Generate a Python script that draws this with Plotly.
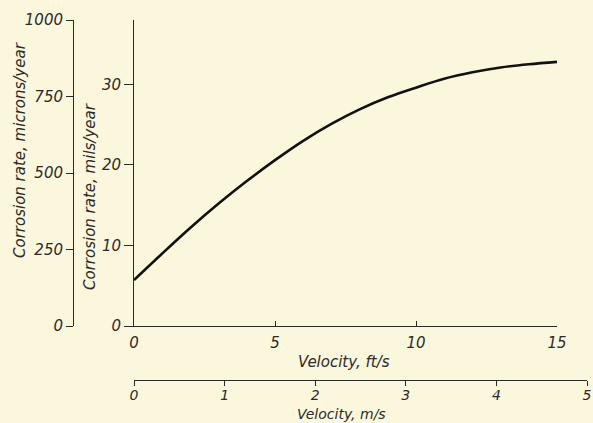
import plotly.graph_objects as go

# Data
velocity_fts = [0, 1, 2, 3, 4, 5, 6, 7, 8, 9, 10, 11, 12, 13, 14, 15]
corrosion_mils = [5.7, 9.0, 12.2, 15.2, 18.0, 20.6, 23.0, 25.1, 26.9, 28.4, 29.6, 30.7, 31.5, 32.1, 32.5, 32.8]

ft_ticks = [0, 5, 10, 15]
ms_ticks = [0, 1, 2, 3, 4, 5]
mils_ticks = [0, 10, 20, 30]
micron_ticks = [0, 250, 500, 750, 1000]

BG = "#faf7dc"
INK = "#2a2a2a"
FONT = dict(family="DejaVu Sans, sans-serif", size=15, color=INK, style="italic")
FONT_SM = dict(FONT, size=14)

fig = go.Figure()
fig.add_trace(go.Scatter(x=velocity_fts, y=corrosion_mils, mode="lines",
                         line=dict(color="#111111", width=2.6, shape="spline", smoothing=1.0),
                         showlegend=False, hoverinfo="skip", cliponaxis=False))
# empty traces to register the secondary axes
fig.add_trace(go.Scatter(x=[], y=[], xaxis="x2", yaxis="y", showlegend=False, hoverinfo="skip"))
fig.add_trace(go.Scatter(x=[], y=[], xaxis="x", yaxis="y2", showlegend=False, hoverinfo="skip"))

W, H = 593, 423
ml, mr, mt, mb = 10, 6, 20, 43
pw, ph = W - ml - mr, H - mt - mb

def fx(px):
    return (px - ml) / pw

def fy(py):
    return (H - mb - py) / ph

axis_common = dict(showgrid=False, zeroline=False, showline=True, linecolor=INK, linewidth=1,
                   tickcolor=INK, tickwidth=1, fixedrange=True, automargin=False)

fig.update_layout(
    width=W, height=H,
    margin=dict(l=ml, r=mr, t=mt, b=mb, autoexpand=False),
    paper_bgcolor=BG, plot_bgcolor="rgba(0,0,0,0)",
    font=FONT,
    xaxis=dict(domain=[fx(134), fx(557)], range=[0, 15], tickvals=ft_ticks, tickfont=FONT,
               ticks="inside", ticklen=5, ticklabelstandoff=3, anchor="y", **axis_common),
    xaxis2=dict(domain=[fx(134), 1], range=[0, 5], tickvals=ms_ticks, anchor="free", position=0,
                tickfont=FONT_SM, ticks="outside", ticklen=5, ticklabelstandoff=-3, **axis_common),
    yaxis=dict(domain=[fy(326), 1], range=[0, 38], tickvals=mils_ticks, anchor="x", tickfont=FONT,
               ticks="outside", ticklen=9, ticklabelstandoff=0, **axis_common),
    yaxis2=dict(overlaying="y", anchor="free", position=fx(73), side="left", range=[0, 1000],
                tickvals=micron_ticks, tickfont=FONT, ticks="outside", ticklen=7,
                ticklabelstandoff=0, **axis_common),
    annotations=[
        dict(text="Velocity, ft/s", xref="paper", yref="paper", x=fx(344), y=fy(362),
             showarrow=False, font=FONT, xanchor="center", yanchor="middle"),
        dict(text="Velocity, m/s", xref="paper", yref="paper", x=fx(341), y=fy(414),
             showarrow=False, font=FONT_SM, xanchor="center", yanchor="middle"),
        dict(text="Corrosion rate, microns/year", xref="paper", yref="paper", x=fx(20), y=fy(150),
             textangle=-90, showarrow=False, font=FONT, xanchor="center", yanchor="middle"),
        dict(text="Corrosion rate, mils/year", xref="paper", yref="paper", x=fx(90), y=fy(197),
             textangle=-90, showarrow=False, font=FONT, xanchor="center", yanchor="middle"),
    ],
)

fig.write_html("out.html", config={"displayModeBar": False, "staticPlot": True},
               post_script="document.body.style.margin='0';document.body.style.overflow='hidden';"
                           "document.body.style.background='" + BG + "';")
